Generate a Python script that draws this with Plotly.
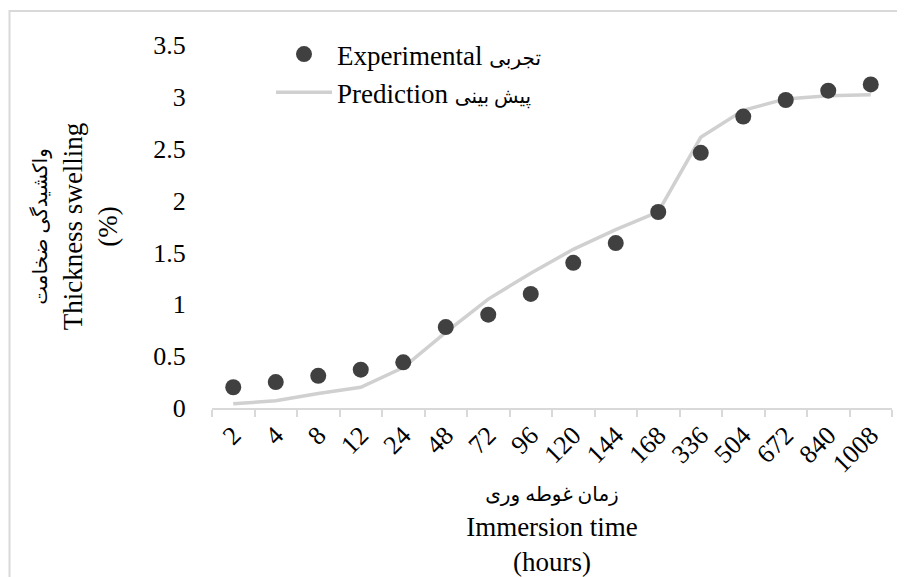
import plotly.graph_objects as go

categories = ["2", "4", "8", "12", "24", "48", "72", "96", "120", "144", "168", "336", "504", "672", "840", "1008"]
experimental = [0.20, 0.25, 0.31, 0.37, 0.44, 0.78, 0.90, 1.10, 1.40, 1.59, 1.89, 2.46, 2.81, 2.97, 3.06, 3.12]
prediction = [0.04, 0.07, 0.14, 0.20, 0.39, 0.73, 1.05, 1.30, 1.53, 1.72, 1.89, 2.61, 2.87, 2.98, 3.01, 3.02]
y_ticks = [0, 0.5, 1, 1.5, 2, 2.5, 3, 3.5]
y_tick_text = ["0", "0.5", "1", "1.5", "2", "2.5", "3", "3.5"]

FONT = "Liberation Serif, 'Times New Roman', 'DejaVu Sans', serif"
FA = "font-size:20px"

fig = go.Figure()
fig.add_trace(go.Scatter(
    x=categories, y=prediction, mode="lines",
    name="Prediction <span style='%s'>پیش بینی</span>" % FA,
    line=dict(color="#d0d0d0", width=3.5),
    legendrank=2,
))
fig.add_trace(go.Scatter(
    x=categories, y=experimental, mode="markers",
    name="Experimental <span style='%s'>تجربی</span>" % FA,
    marker=dict(color="#404040", size=16),
    legendrank=1,
))

# page body adds an 8px offset; design in reference pixel coords, shifted by OFF
OFF = 8
W, H = 905 - OFF, 577 - OFF
L, R, T, B = 212 - OFF, 13, 45 - OFF, 169
pw, ph = W - L - R, H - T - B

def px_x(p):
    return (p - OFF - L) / pw

def px_y(p):
    return 1 - (p - OFF - T) / ph

fig.update_layout(
    width=W, height=H,
    margin=dict(l=L, r=R, t=T, b=B, autoexpand=False),
    paper_bgcolor="white", plot_bgcolor="white",
    font=dict(family=FONT, size=26, color="black"),
    showlegend=True,
    legend=dict(
        x=px_x(271), y=px_y(30), xanchor="left", yanchor="top",
        bgcolor="rgba(0,0,0,0)", font=dict(size=27),
        traceorder="normal", itemwidth=56,
    ),
    xaxis=dict(
        type="category", range=[-0.5, len(categories) - 0.5],
        showgrid=False, zeroline=False,
        showline=True, linecolor="#d9d9d9", linewidth=1.5,
        ticks="outside", tickson="boundaries", ticklen=7, tickcolor="#d9d9d9", tickwidth=1.5,
        tickangle=-45, tickfont=dict(size=26),
        title=dict(text="<span style='%s'>زمان غوطه وری</span><br>Immersion time<br>(hours)" % FA,
                   font=dict(size=27), standoff=5),
        automargin=False,
    ),
    yaxis=dict(
        range=[0, 3.5], showgrid=False, zeroline=False, showline=False,
        tickvals=y_ticks, ticktext=y_tick_text,
        ticks="outside", ticklen=20, tickcolor="rgba(0,0,0,0)",
        tickfont=dict(size=26),
        title=dict(text="<span style='%s'>واکشیدگی ضخامت</span><br>Thickness swelling<br>(%%)" % FA,
                   font=dict(size=27), standoff=27),
        automargin=False,
    ),
    shapes=[dict(
        type="rect", xref="paper", yref="paper",
        x0=px_x(9.5), x1=px_x(930), y0=px_y(620), y1=px_y(11),
        line=dict(color="#d9d9d9", width=2), fillcolor="rgba(0,0,0,0)", layer="above",
    )],
)

fig.write_html("out.html")
